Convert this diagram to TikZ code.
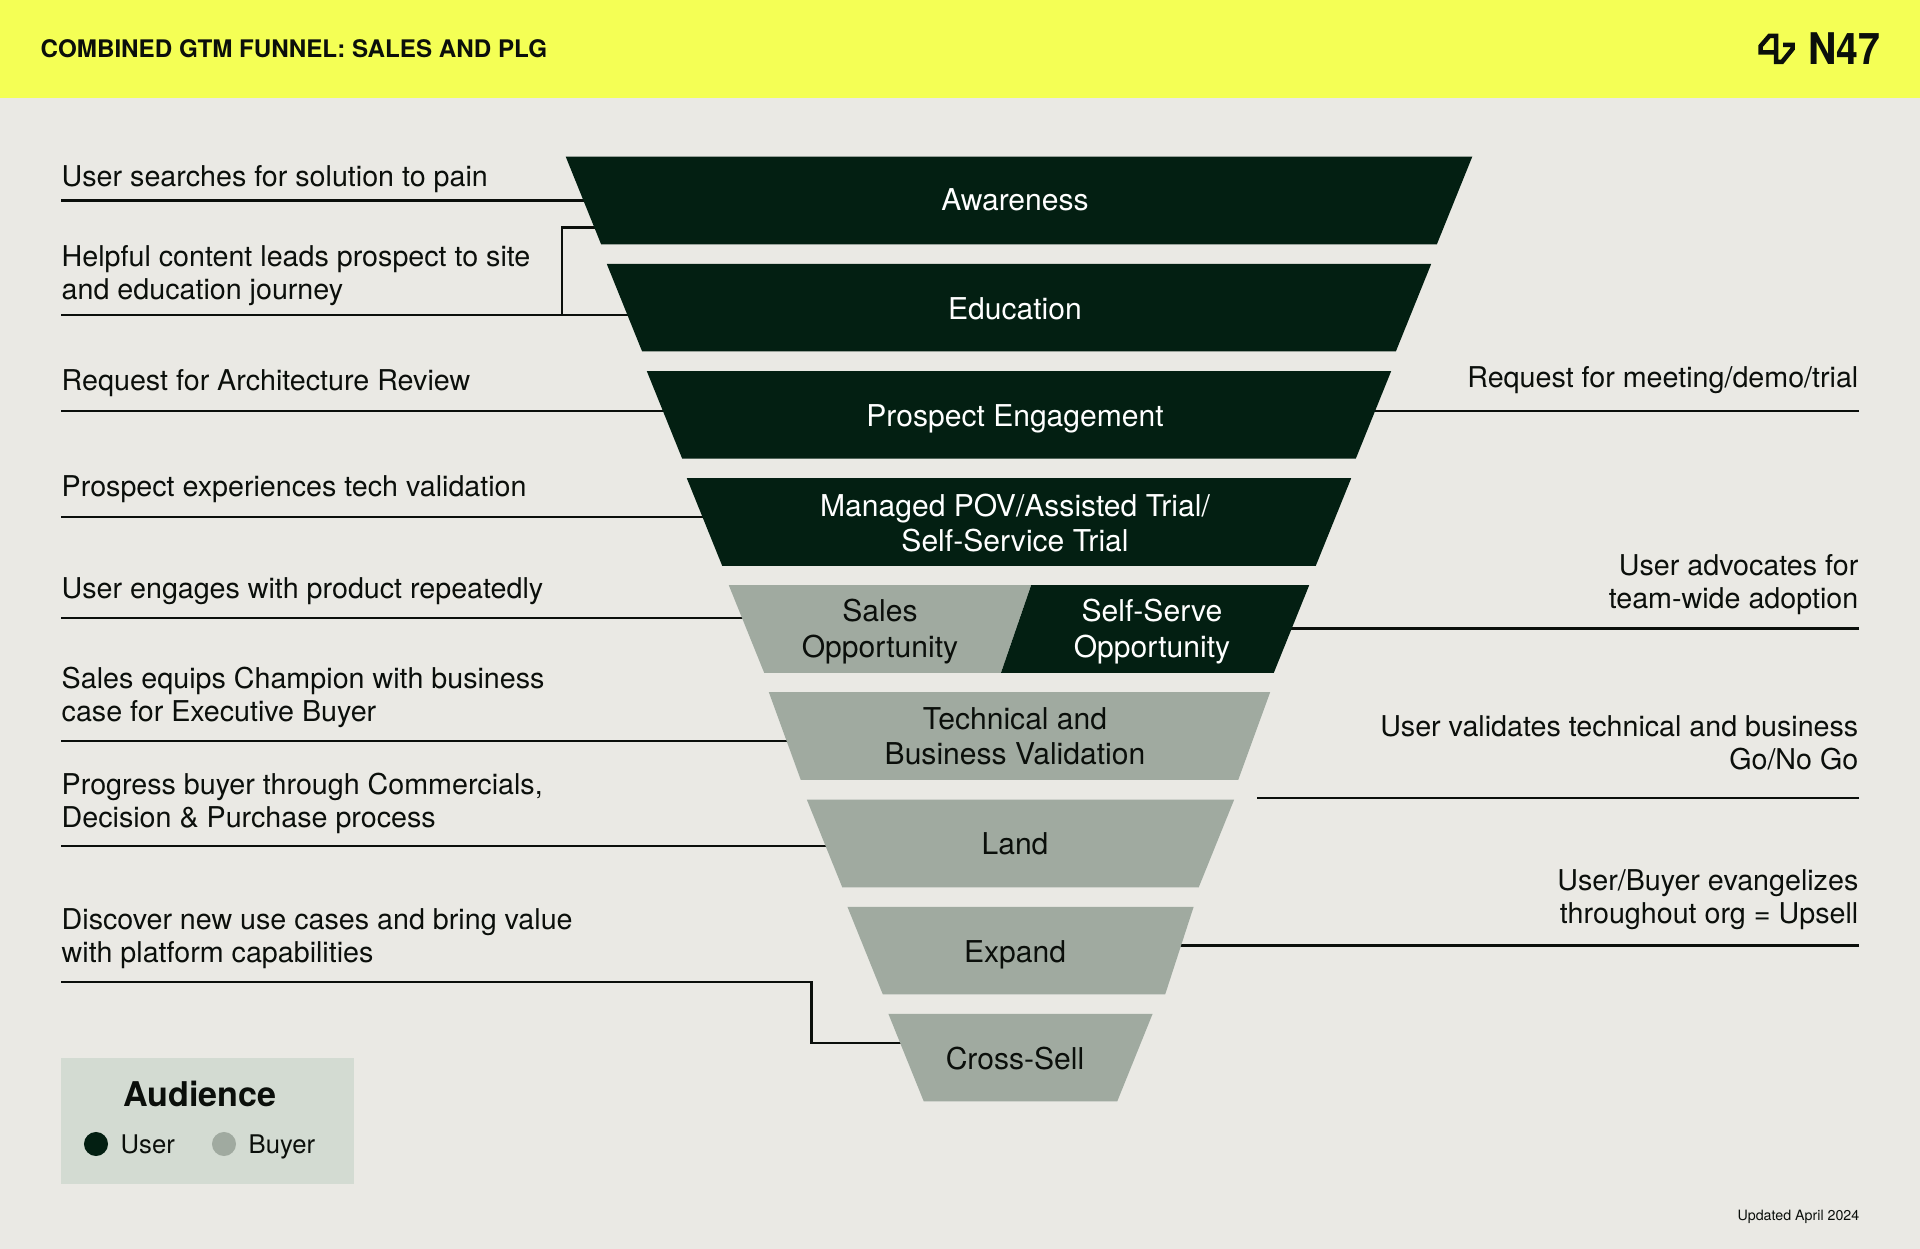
\documentclass[tikz,border=0pt]{standalone}
\usepackage{fontspec}
\setmainfont{TeX Gyre Heros}
\usetikzlibrary{shapes,backgrounds}
\definecolor{paper}{HTML}{EAE9E4}
\definecolor{banner}{HTML}{F4FF55}
\definecolor{pine}{HTML}{031F12}
\definecolor{sage}{HTML}{A0AAA0}
\definecolor{legendbg}{HTML}{D3DBD2}
\definecolor{ink}{HTML}{0B0F0B}

\begin{document}
\begin{tikzpicture}[x=0.01cm,y=-0.01cm,node distance=1.071cm]
  \tikzstyle{stage}=[trapezium,shape border rotate=180,trapezium stretches body=true,
  		     trapezium left angle=68,trapezium right angle=68,
  		     inner sep=0pt,outer sep=0pt,text height=0.875cm,text depth=0pt]
  \tikzstyle{user stage}=[stage,fill=pine]
  \tikzstyle{buyer stage}=[stage,fill=sage]
  \tikzstyle{stage text}=[inner sep=0pt,align=center,font=\fontsize{8.55}{10}\selectfont]
  \tikzstyle{user text}=[stage text,text=white]
  \tikzstyle{buyer text}=[stage text,text=ink]
  \tikzstyle{note}=[inner sep=0pt,text=ink,font=\fontsize{8.15}{9.4}\selectfont]
  \tikzstyle{left note}=[note,anchor=west,align=left]
  \tikzstyle{right note}=[note,anchor=east,align=right]
  \tikzstyle{leader}=[draw=ink,line width=0.85pt]
  \tikzstyle{dot}=[circle,inner sep=0pt,minimum size=0.24cm]

  \useasboundingbox (0,0) rectangle (1920,1249);

  % funnel
  \node [user stage,minimum width=9.06cm] (awareness) at (1019,200.5) {};
  \node [user stage,minimum width=8.24cm] (education) [below of=awareness] {};
  \node [user stage,minimum width=7.44cm] (engagement) [below of=education] {};
  \node [user stage,minimum width=6.64cm] (trial) [below of=engagement] {};
  \node [buyer stage,minimum width=3.02cm,trapezium left angle=71] (salesopp) at (882.5,629) {};
  \node [user stage,minimum width=3.08cm,trapezium right angle=109] (selfopp) at (1152.5,629) {};
  \node [buyer stage,minimum width=5.01cm,trapezium left angle=70,trapezium right angle=70] (validation) at (1019.5,736) {};
  \node [buyer stage,minimum width=4.27cm] (land) at (1020.5,843.5) {};
  \node [buyer stage,minimum width=3.46cm,trapezium left angle=72] (expand) at (1024,950.6) {};
  \node [buyer stage,minimum width=2.64cm] (crosssell) at (1020.5,1057.7) {};

  \node [user text] (awarenesstext) at (1015,199.5) {Awareness};
  \node [user text] (educationtext) at (1015,308.5) {Education};
  \node [user text] (engagementtext) at (1015,418.8) {Prospect Engagement};
  \node [user text] (trialtext) at (1015,523) {Managed POV/Assisted Trial/\\Self-Service Trial};
  \node [buyer text] (salestext) at (880,631.5) {Sales\\Opportunity};
  \node [user text] (selftext) at (1152,631.5) {Self-Serve\\Opportunity};
  \node [buyer text] (validationtext) at (1015,736) {Technical and\\Business Validation};
  \node [buyer text] (landtext) at (1015,843.5) {Land};
  \node [buyer text] (expandtext) at (1015,955) {Expand};
  \node [buyer text] (crosstext) at (1015,1058.5) {Cross-Sell};

  % notes on the left
  \node [left note] (n1) at (61,179) {User searches for solution to pain};
  \node [left note] (n2) at (61,276) {Helpful content leads prospect to site\\and education journey};
  \node [left note] (n3) at (61,383) {Request for Architecture Review};
  \node [left note] (n4) at (61,489) {Prospect experiences tech validation};
  \node [left note] (n5) at (61,591) {User engages with product repeatedly};
  \node [left note] (n6) at (61,697) {Sales equips Champion with business\\case for Executive Buyer};
  \node [left note] (n7) at (61,803) {Progress buyer through Commercials,\\Decision \& Purchase process};
  \node [left note] (n8) at (61,939) {Discover new use cases and bring value\\with platform capabilities};

  % notes on the right
  \node [right note] (r1) at (1859,380) {Request for meeting/demo/trial};
  \node [right note] (r2) at (1859,585) {User advocates for\\team-wide adoption};
  \node [right note] (r3) at (1859,743) {User validates technical and business\\Go/No Go};
  \node [right note] (r4) at (1859,900) {User/Buyer evangelizes\\throughout org = Upsell};

  \coordinate (a1) at (61,201);
  \coordinate (a2) at (61,315);
  \coordinate (a3) at (61,411);
  \coordinate (a4) at (61,517);
  \coordinate (a5) at (61,618);
  \coordinate (a6) at (61,741);
  \coordinate (a7) at (61,846);
  \coordinate (a8) at (61,982);
  \coordinate (bend2) at (562,315);
  \coordinate (top2) at (700,228);
  \coordinate (bend8) at (811,982);
  \coordinate (b1) at (1859,411);
  \coordinate (b2) at (1859,628.5);
  \coordinate (b3) at (1859,798);
  \coordinate (b4) at (1859,945.7);
  \coordinate (c3) at (1257,798);

  % page and leaders go behind the funnel
  \begin{scope}[on background layer]
    \fill [paper] (0,0) rectangle (1920,1249);
    \fill [banner] (0,0) rectangle (1920,98);
    \draw [leader] (a1) -- (a1 -| awareness.center);
    \draw [leader] (a2) -- (a2 -| education.center);
    \draw [leader] (bend2) |- (top2);
    \draw [leader] (a3) -- (a3 -| engagement.center);
    \draw [leader] (a4) -- (a4 -| trial.center);
    \draw [leader] (a5) -- (a5 -| salesopp.center);
    \draw [leader] (a6) -- (a6 -| validation.center);
    \draw [leader] (a7) -- (a7 -| land.center);
    \draw [leader] (a8) -- (bend8) |- (crosssell.center |- 0,1043);
    \draw [leader] (b1) -- (b1 -| engagement.center);
    \draw [leader] (b2) -- (b2 -| selfopp.center);
    \draw [leader] (b3) -- (c3);
    \draw [leader] (b4) -- (b4 -| expand.center);
  \end{scope}

  % header
  \node [anchor=west,inner sep=0pt,text=ink,font=\fontsize{6.88}{8}\bfseries\selectfont] (title) at (40,49)
    {COMBINED GTM FUNNEL: SALES AND PLG};
  \draw [ink,line width=0.045cm,miter limit=6]
    (1774,52.3) -- (1760.7,52.3) -- (1760.7,46) -- (1769.3,36) -- (1776,36) -- (1776,62)
    -- (1782,62) -- (1792.5,49) -- (1792.5,45) -- (1783,45);
  \node [anchor=east,inner sep=0pt,text=ink,font=\fontsize{12.4}{14}\bfseries\selectfont,xscale=0.9] (logo) at (1881,49) {N47};

  % legend
  \fill [legendbg] (61,1058) rectangle (354,1184);
  \node [inner sep=0pt,text=ink,font=\fontsize{9.7}{11}\bfseries\selectfont] (audience) at (200,1094) {Audience};
  \node [dot,fill=pine] (userdot) at (96,1144) {};
  \node [dot,fill=sage] (buyerdot) at (224,1144) {};
  \node [note,anchor=west,font=\fontsize{7.3}{9}\selectfont] (userkey) at (120,1144) {User};
  \node [note,anchor=west,font=\fontsize{7.3}{9}\selectfont] (buyerkey) at (248,1147) {Buyer};

  \node [note,anchor=east,font=\fontsize{4.05}{5}\selectfont] (updated) at (1860,1217) {Updated April 2024};
\end{tikzpicture}
\end{document}
